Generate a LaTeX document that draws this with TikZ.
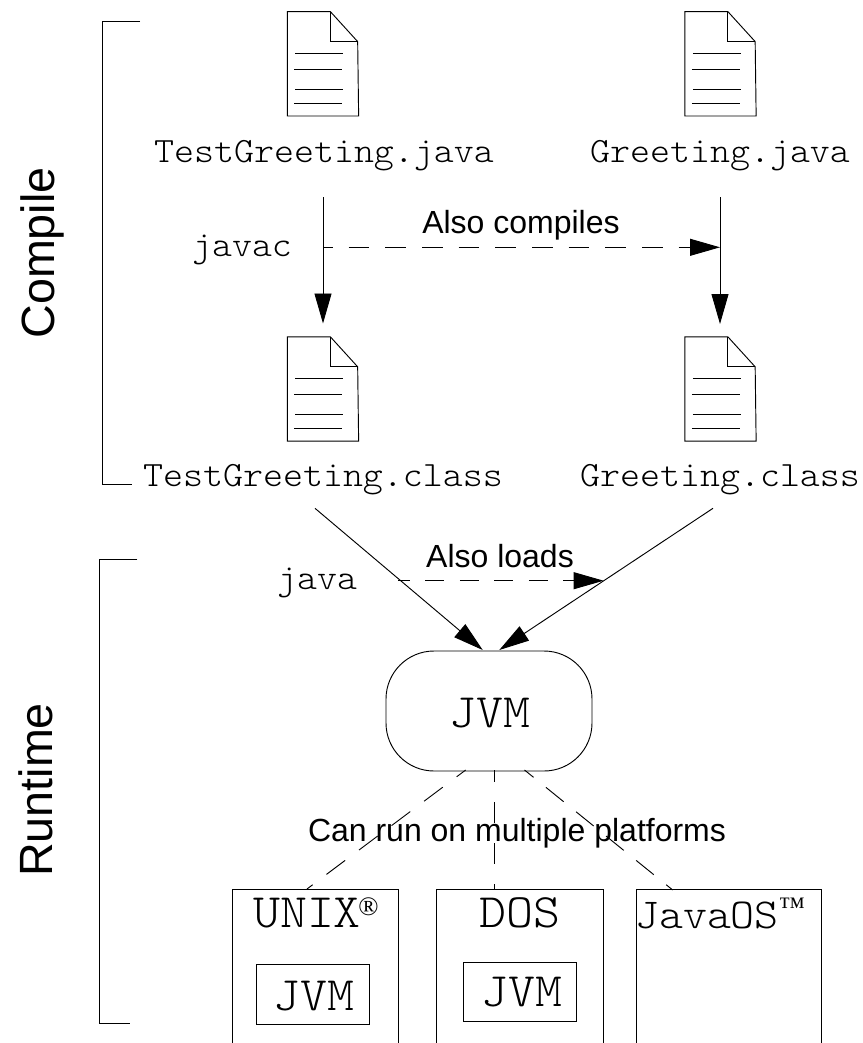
\documentclass[tikz,border=0pt]{standalone}
\usepackage{fontspec}
\setmainfont{Liberation Sans}
\setmonofont[FakeStretch=1.07]{Latin Modern Mono Light}
\newfontfamily\symfont{Liberation Serif}
\usetikzlibrary{arrows.meta}
\tikzset{
  x=0.75pt,y=-0.75pt,
  fname/.style={font=\fontsize{26.7}{30}\selectfont\ttfamily,inner sep=0pt,anchor=base},
  big/.style={font=\fontsize{36}{40}\selectfont\ttfamily,inner sep=0pt,anchor=base},
  midsize/.style={font=\fontsize{32}{36}\selectfont\ttfamily,inner sep=0pt,anchor=base},
  lab/.style={font=\fontsize{24}{28}\selectfont,inner sep=0pt,anchor=base},
  side/.style={font=\fontsize{35}{40}\selectfont,inner sep=0pt,anchor=base,rotate=90},
  sym/.style={font=\fontsize{20}{22}\selectfont\symfont,inner sep=0pt,anchor=base},
  arr/.style={-{Triangle[length=22.5pt,width=12.75pt]}},
  plat/.style={draw,rectangle,inner sep=0pt},
  docbox/.style={rectangle,inner sep=0pt,minimum width=52.75pt,minimum height=77.6pt}
}
\newcommand{\docicon}[3]{%
  \node[docbox] (#1) at (#2,#3) {};
  \draw (#1.north west) -- ++(43,0) -- ++(27.3,30) -- (#1.south east) -- (#1.south west) -- cycle;
  \draw (#1.north west) ++(43,0) -- ++(0,30) -- ++(27.3,0);
  \draw (#1.north west) ++(8,42) -- ++(48,0);
  \draw (#1.north west) ++(7,58) -- ++(48,0);
  \draw (#1.north west) ++(8,77.5) -- ++(48,0);
  \draw (#1.north west) ++(7,91.5) -- ++(48,0);
}
\begin{document}
\begin{tikzpicture}[line width=0.7pt]
\useasboundingbox (0,0) rectangle (863,1043);
\clip (0,0) rectangle (863,1043);
% brackets
\coordinate (b1a) at (140,21);\coordinate (b1b) at (102,21);\coordinate (b1c) at (102,484.3);\coordinate (b1d) at (132,484.3);
\draw (b1a)--(b1b)--(b1c)--(b1d);
\coordinate (b2a) at (137.3,559.5);\coordinate (b2b) at (99.7,559.5);\coordinate (b2c) at (99.7,1023.3);\coordinate (b2d) at (129.5,1023.3);
\draw (b2a)--(b2b)--(b2c)--(b2d);
\node[side] (compile) at (54.3,253) {Compile};
\node[side] (runtime) at (52,790) {Runtime};
% documents
\docicon{d1}{323}{63.8}
\docicon{d2}{720.5}{63.8}
\docicon{d3}{323}{389}
\docicon{d4}{720.5}{389}
% labels
\node[fname] (tgj) at (324,162) {TestGreeting.java};
\node[fname] (gj) at (720,162) {Greeting.java};
\node[fname] (tgc) at (323,486.7) {TestGreeting.class};
\node[fname] (gc) at (720,486.7) {Greeting.class};
\node[fname] (javac) at (242,256.7) {javac};
\node[fname] (javalab) at (317,589.3) {java};
\node[lab] (alsoc) at (521,233.3) {Also compiles};
\node[lab] (alsol) at (500,567.7) {Also loads};
% jvm
\node[draw,rectangle,rounded corners=36pt,minimum width=154.5pt,minimum height=90pt,inner sep=0pt] (jvm) at (489,711) {};
\node[big] (jvmt) at (490,727) {JVM};
% platforms
\node[plat,minimum width=124.75pt,minimum height=150pt] (unix) at (315.5,989.3) {};
\node[plat,minimum width=124.75pt,minimum height=150pt] (dos) at (519.8,989.3) {};
\node[plat,minimum width=138.75pt,minimum height=150pt] (jos) at (728.5,989.3) {};
\node[big] (unixt) at (307,927) {UNIX};
\node[sym] (reg) at (368.5,915) {®};
\node[big] (dost) at (520,927) {DOS};
\node[midsize] (jost) at (707,928) {JavaOS};
\node[sym] (tm) at (792,915) {™};
\node[plat,minimum width=84.75pt,minimum height=45pt] (jv1) at (312.5,994) {};
\node[big] (jv1t) at (314,1010) {JVM};
\node[plat,minimum width=84.5pt,minimum height=44.25pt] (jv2) at (519.8,991.7) {};
\node[big] (jv2t) at (521.6,1006.7) {JVM};
% connector ends
\coordinate (a1) at (323,197);\coordinate (a2) at (720,197);
\coordinate (e1) at (323,323.5);\coordinate (e2) at (720,324);
\coordinate (c1) at (323,247.3);\coordinate (c2) at (720,247.3);
\coordinate (l1) at (315,508.3);\coordinate (l2) at (713,508.3);
\coordinate (t1) at (482.7,650);\coordinate (t2) at (499.3,650);
\coordinate (n1) at (398,580.7);\coordinate (n2) at (603.6,580.7);
\coordinate (j1) at (465.7,770);\coordinate (j2) at (494.5,770);\coordinate (j3) at (524.5,770);
\coordinate (p1) at (307,889);\coordinate (p2) at (494.5,889);\coordinate (p3) at (672.7,890);
\draw[arr] (a1)--(e1);
\draw[arr] (a2)--(e2);
\draw[arr,dash pattern=on 15.5pt off 12pt,dash phase=8.25pt] (c1)--(c2);
\draw[arr] (l1)--(t1);
\draw[arr] (l2)--(t2);
\draw[arr,dash pattern=on 14.25pt off 11.6pt,dash phase=5.25pt] (n1)--(n2);
\draw[dash pattern=on 17.5pt off 13pt,dash phase=9pt] (j1)--(p1);
\draw[dash pattern=on 15.75pt off 15pt,dash phase=6.75pt] (j2)--(p2);
\draw[dash pattern=on 17pt off 12pt,dash phase=8.25pt] (j3)--(p3);
\node[lab] (can) at (517,841) {Can run on multiple platforms};
\end{tikzpicture}
\end{document}
